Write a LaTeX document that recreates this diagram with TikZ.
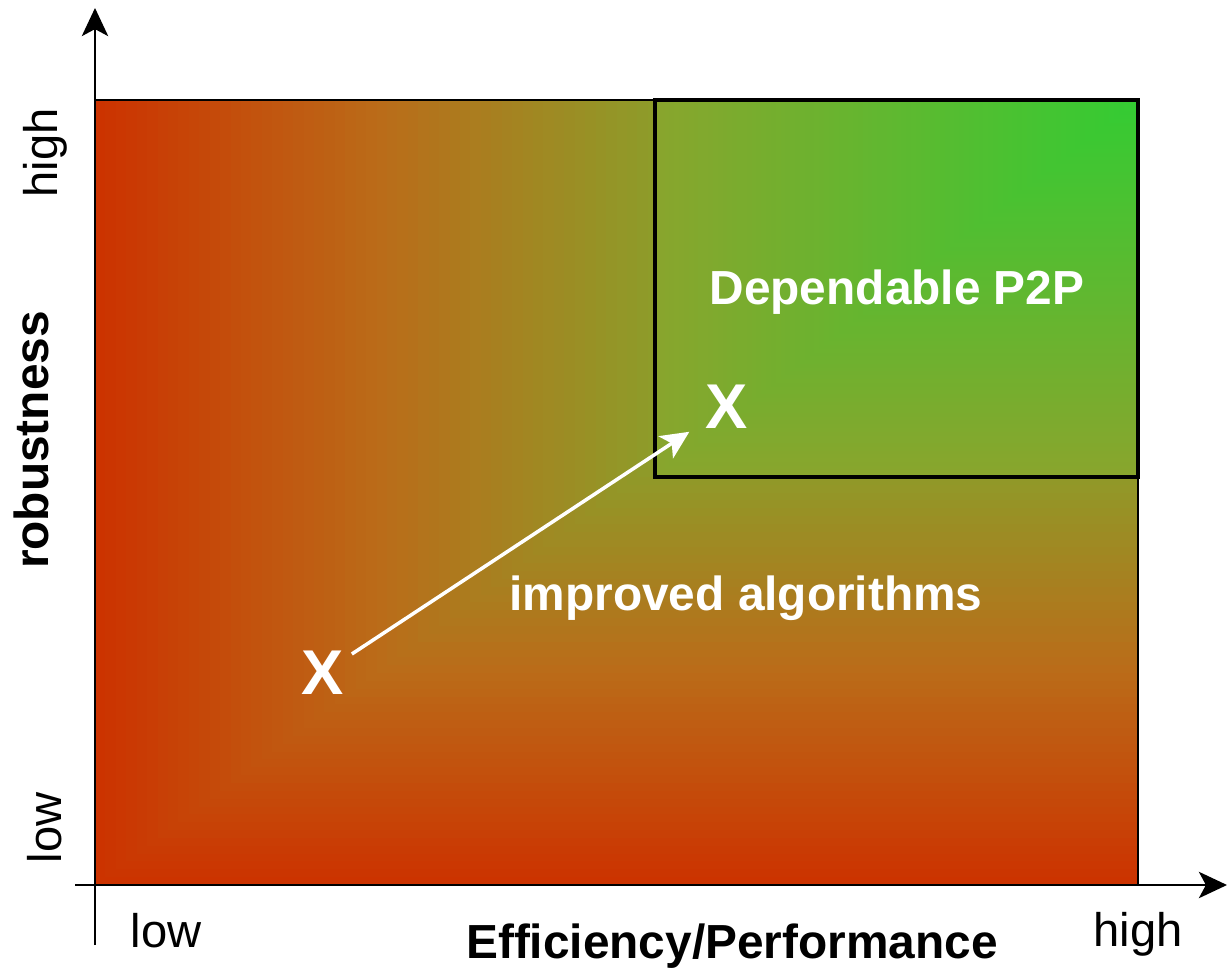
\documentclass[tikz,border=0pt]{standalone}
\usepackage{fontspec}
\setmainfont{Liberation Sans}
\usetikzlibrary{arrows.meta,positioning}
\definecolor{lowred}{RGB}{204,51,0}
\definecolor{midorange}{RGB}{186,108,25}
\definecolor{olive}{RGB}{140,158,42}
\definecolor{edgeolive}{RGB}{137,165,45}
\definecolor{highgreen}{RGB}{51,204,51}

\begin{document}
\begin{tikzpicture}[x=0.01cm,y=-0.01cm,>={Stealth[length=8pt,width=7.5pt,inset=2pt]},
		axis/.style={line width=0.6pt,->},
		lbl/.style={font=\fontsize{13.4}{16}\selectfont},
		ttl/.style={font=\fontsize{13.6}{16}\selectfont\bfseries},
		bigx/.style={text=white,font=\fontsize{18}{20}\selectfont\bfseries,inner sep=2pt}]
			\useasboundingbox (0,0) rectangle (1227,970);
			% corner gradient of the whole field
			\foreach \i in {0,...,54}{
				\ifnum\i<28
					\pgfmathsetmacro\p{100*\i/27}
					\colorlet{fc}{midorange!\p!lowred}
				\else
					\pgfmathsetmacro\p{100*(\i-27)/27}
					\colorlet{fc}{olive!\p!midorange}
				\fi
				\fill[fc] ({95+\i*10.43},{885-\i*7.85}) rectangle (1138,100);
			}
			% corner gradient of the dependable region
			\foreach \i in {0,...,99}{
				\colorlet{fc}{highgreen!\i!edgeolive}
				\fill[fc] ({655+\i*4.83},{477-\i*3.77}) rectangle (1138,100);
			}
			\draw[line width=0.6pt] (95,100) rectangle (1138,885);
			\draw[line width=1.1pt] (655,100) rectangle (1138,477);
			% axes
			\coordinate (ybot) at (95,945);
			\coordinate (ytop) at (95,8);
			\coordinate (xleft) at (75,885);
			\coordinate (xright) at (1227,885);
			\draw[axis] (ybot) -- (ytop);
			\draw[axis] (xleft) -- (xright);
			\node[lbl,rotate=90] (yhigh) at (45,153) {high};
			\node[ttl,rotate=90] (ytitle) at (31,440) {robustness};
			\node[lbl,rotate=90] (ylow) at (45,828) {low};
			\node[lbl] (xlow) at (166,931) {low};
			\node[ttl] (xtitle) at (732,946) {Efficiency/Performance};
			\node[lbl] (xhigh) at (1138,934) {high};
			% regions and move
			\node[ttl,text=white] (dep) at (897,292) {Dependable P2P};
			\node[ttl,text=white] (impr) at (746,598) {improved algorithms};
			\node[bigx] (xa) at (323,673) {X};
			\node[bigx] (xb) at (727,407) {X};
			\draw[->,white,line width=1pt,shorten >=3pt] (xa) -- (xb);
		\end{tikzpicture}
\end{document}
